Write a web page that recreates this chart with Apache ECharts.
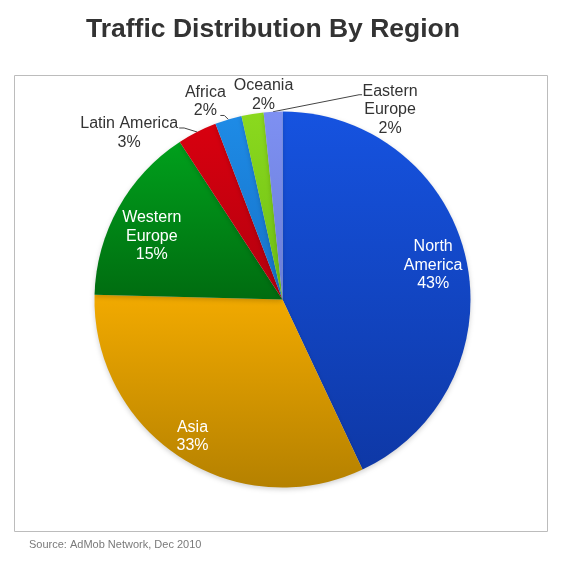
<!DOCTYPE html>
<html>
<head>
<meta charset="utf-8">
<script src="https://cdn.jsdelivr.net/npm/echarts@6/dist/echarts.min.js"></script>
<style>
  html, body { margin: 0; padding: 0; background: #fff; }
  #main { width: 563px; height: 562px; }
</style>
</head>
<body>
<div id="main"></div>
<script>
"use strict";

var regions = ["North America", "Asia", "Western Europe", "Latin America", "Africa", "Oceania", "Eastern Europe"];
var labelNames = ["North\nAmerica", "Asia", "Western\nEurope", "Latin America", "Africa", "Oceania", "Eastern\nEurope"];
// slice sizes as drawn, and the percentages printed on them
var shares = [43, 32.4, 15.4, 3.4, 2.3, 1.9, 1.6];
var printedPct = [43, 33, 15, 3, 2, 2, 2];

// top / bottom shade of each slice
var topColors = ["#1653E0", "#F2AA00", "#00A01C", "#D8000F", "#1E8BE6", "#8BD91E", "#7E90F2"];
var bottomColors = ["#0E38A6", "#B58100", "#006C10", "#B3000E", "#1672C8", "#6DBE14", "#6A7ED8"];

var insideLabels = { "North America": true, "Asia": true, "Western Europe": true };

// inside labels: nudge from the default spot
var insideShift = {
    "North America": [56, -13],
    "Asia": [-37, 56],
    "Western Europe": [-46, -16]
};
// outside labels: label centre and leader line, relative to the slice edge point
var outsideSpot = {
    "Latin America": { at: [-68, 1], line: [[-13, -4], [-18, -4]] },
    "Africa": { at: [-23, -18], line: [[-4, -4], [-8, -4]] },
    "Oceania": { at: [11, -19], line: null },
    "Eastern Europe": { at: [117, -2], line: [[86, -17], [89, -17]] }
};

var myChart = echarts.init(document.getElementById('main'));

var pieData = regions.map(function (name, i) {
    var inside = insideLabels[name] === true;
    return {
        name: name,
        value: shares[i],
        itemStyle: {
            color: {
                type: 'linear', x: 0, y: 0, x2: 0, y2: 1,
                colorStops: [
                    { offset: 0, color: topColors[i] },
                    { offset: 1, color: bottomColors[i] }
                ]
            }
        },
        label: {
            position: inside ? 'inside' : 'outside',
            color: inside ? '#ffffff' : '#333333',
            formatter: labelNames[i] + '\n' + printedPct[i] + '%'
        },
        labelLine: { show: !inside && outsideSpot[name].line !== null }
    };
});

var option = {
    animation: false,
    title: {
        text: 'Traffic Distribution By Region',
        left: 268,
        top: 11,
        textAlign: 'center',
        textStyle: {
            fontFamily: 'Liberation Sans',
            fontWeight: 'bold',
            fontSize: 26.5,
            color: '#333333'
        }
    },
    graphic: [
        {
            type: 'rect',
            shape: { x: 14.5, y: 75.5, width: 533, height: 456 },
            style: { fill: 'none', stroke: '#bcbcbc', lineWidth: 1 },
            silent: true
        },
        {
            type: 'text',
            left: 29,
            top: 539,
            style: {
                text: 'Source: AdMob Network, Dec 2010',
                fontFamily: 'Liberation Sans',
                fontSize: 11,
                fill: '#7a7a7a'
            }
        }
    ],
    series: [{
        type: 'pie',
        center: [282.5, 299.5],
        radius: [0, 188],
        startAngle: 90,
        clockwise: true,
        avoidLabelOverlap: false,
        itemStyle: {
            borderWidth: 0,
            shadowBlur: 5,
            shadowOffsetY: 2,
            shadowColor: 'rgba(0,0,0,0.18)'
        },
        label: {
            fontFamily: 'Liberation Sans',
            fontSize: 16,
            lineHeight: 18.5
        },
        labelLine: {
            length: 10,
            length2: 10,
            lineStyle: { color: '#444444', width: 1 }
        },
        labelLayout: function (params) {
            var name = regions[params.dataIndex];
            if (insideShift[name]) {
                var s = insideShift[name];
                return { dx: s[0], dy: s[1], align: 'center' };
            }
            var spot = outsideSpot[name];
            if (!spot || !params.labelLinePoints) return {};
            var edge = params.labelLinePoints[0];
            var out = {
                x: edge[0] + spot.at[0],
                y: edge[1] + spot.at[1],
                align: 'center',
                verticalAlign: 'middle'
            };
            if (spot.line) {
                out.labelLinePoints = [
                    [edge[0], edge[1]],
                    [edge[0] + spot.line[0][0], edge[1] + spot.line[0][1]],
                    [edge[0] + spot.line[1][0], edge[1] + spot.line[1][1]]
                ];
            }
            return out;
        },
        emphasis: { disabled: true },
        data: pieData
    }]
};

myChart.setOption(option);
window.myChart = myChart;
</script>
</body>
</html>
